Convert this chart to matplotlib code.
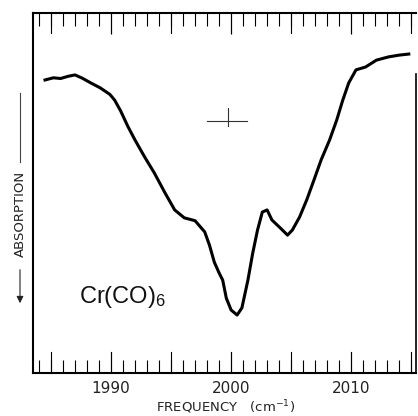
import matplotlib
matplotlib.use("Agg")
import matplotlib.pyplot as plt
from matplotlib import font_manager
from matplotlib.ticker import MultipleLocator

# ---- data ----
freq = [1984.5, 1985.2, 1985.8, 1986.4, 1987.0, 1987.6, 1988.3, 1989.1, 1989.9,
        1990.3, 1990.8, 1991.4, 1992.0, 1992.8, 1993.6, 1994.5, 1995.3, 1996.1,
        1997.0, 1997.8, 1998.2, 1998.6, 1999.0, 1999.3, 1999.6, 2000.0, 2000.5,
        2000.9, 2001.4, 2001.8, 2002.2, 2002.6, 2003.0, 2003.4, 2004.0, 2004.7,
        2005.1, 2005.7, 2006.3, 2006.9, 2007.5, 2008.2, 2008.8, 2009.3, 2009.8,
        2010.4, 2011.2, 2012.1, 2013.1, 2014.0, 2014.8]
trans = [81.4, 82.0, 81.8, 82.4, 82.8, 81.9, 80.6, 79.2, 77.4,
         75.8, 72.8, 68.5, 64.7, 60.0, 55.6, 50.0, 45.3, 43.1,
         42.3, 39.2, 35.5, 30.8, 27.8, 25.8, 20.8, 17.5, 16.1,
         18.1, 25.8, 33.3, 39.7, 44.7, 45.3, 42.5, 40.6, 38.3,
         39.7, 43.3, 48.1, 53.6, 59.2, 64.7, 70.3, 75.8, 80.6,
         84.2, 85.0, 86.9, 87.8, 88.3, 88.6]

xlim = (1983.5, 2015.4)
ylim = (0, 100)
major_ticks = [1990, 2000, 2010]
tick_labels = ["1990", "2000", "2010"]
long_ticks = [1985, 1990, 1995, 2000, 2005, 2010, 2015]
sample_label = "Cr(CO)$_6$"
x_label = "FREQUENCY   (cm$^{-1}$)"
y_label = "ABSORPTION"
cross_x, cross_y = 1999.7, 70.1

names = {f.name for f in font_manager.fontManager.ttflist}
narrow = "Liberation Sans Narrow" if "Liberation Sans Narrow" in names else "DejaVu Sans"
sans = "Liberation Sans" if "Liberation Sans" in names else "DejaVu Sans"

plt.rcParams["mathtext.default"] = "regular"

fig = plt.figure(figsize=(4.18, 4.16), dpi=100)
ax = fig.add_axes([33 / 418, 43 / 416, (416 - 33) / 418, (373 - 13) / 416])

ax.plot(freq, trans, color="black", lw=2.2, solid_joinstyle="round")

ax.set_xlim(*xlim)
ax.set_ylim(*ylim)

ax.set_xticks(major_ticks, tick_labels)
ax.xaxis.set_minor_locator(MultipleLocator(1))
ax.tick_params(axis="x", which="major", direction="in", length=15, width=0.8,
               top=True, bottom=True, pad=6, labelsize=11)
ax.tick_params(axis="x", which="minor", direction="in", length=9.5, width=0.8,
               top=True, bottom=True)
for xv in long_ticks:
    ax.plot([xv, xv], [0, 5.8], color="black", lw=0.8, clip_on=False)
    ax.plot([xv, xv], [100, 94.4], color="black", lw=0.8, clip_on=False)
for lab in ax.get_xticklabels():
    lab.set_fontfamily(narrow)
    lab.set_color("#222222")

ax.set_yticks([])
for side in ["left", "bottom", "top"]:
    ax.spines[side].set_linewidth(1.5)
ax.spines["right"].set_linewidth(1.2)
ax.spines["right"].set_bounds(0, 83)

ax.set_xlabel(x_label, fontsize=9.5, fontfamily="DejaVu Sans", color="#222222",
              va="center")
ax.xaxis.set_label_coords(0.504, -0.094)

ax.text(1987.3, 21, sample_label, fontsize=17, fontfamily=sans, color="#111111",
        ha="left", va="center")

# small cross mark
ax.plot([cross_x - 1.7, cross_x + 1.6], [cross_y, cross_y], color="#333333", lw=0.8)
ax.plot([cross_x, cross_x], [cross_y - 1.5, cross_y + 3.5], color="#333333", lw=0.8)

# y label with arrow lines (figure pixel coordinates)
W, H = 418, 416
fig.text(20 / W, 1 - 214 / H, y_label, rotation=90, ha="center", va="center",
         fontsize=9.5, fontfamily="DejaVu Sans", color="#222222")
fig.add_artist(plt.Line2D([20 / W, 20 / W], [1 - 93 / H, 1 - 162 / H],
                          color="#444444", lw=0.8))
ax.annotate("", xy=(20 / W, 1 - 306 / H), xytext=(20 / W, 1 - 267 / H),
            xycoords="figure fraction", textcoords="figure fraction",
            arrowprops=dict(arrowstyle="-|>", color="#222222", lw=0.8,
                            mutation_scale=10))

fig.savefig("out.png", dpi=100)
